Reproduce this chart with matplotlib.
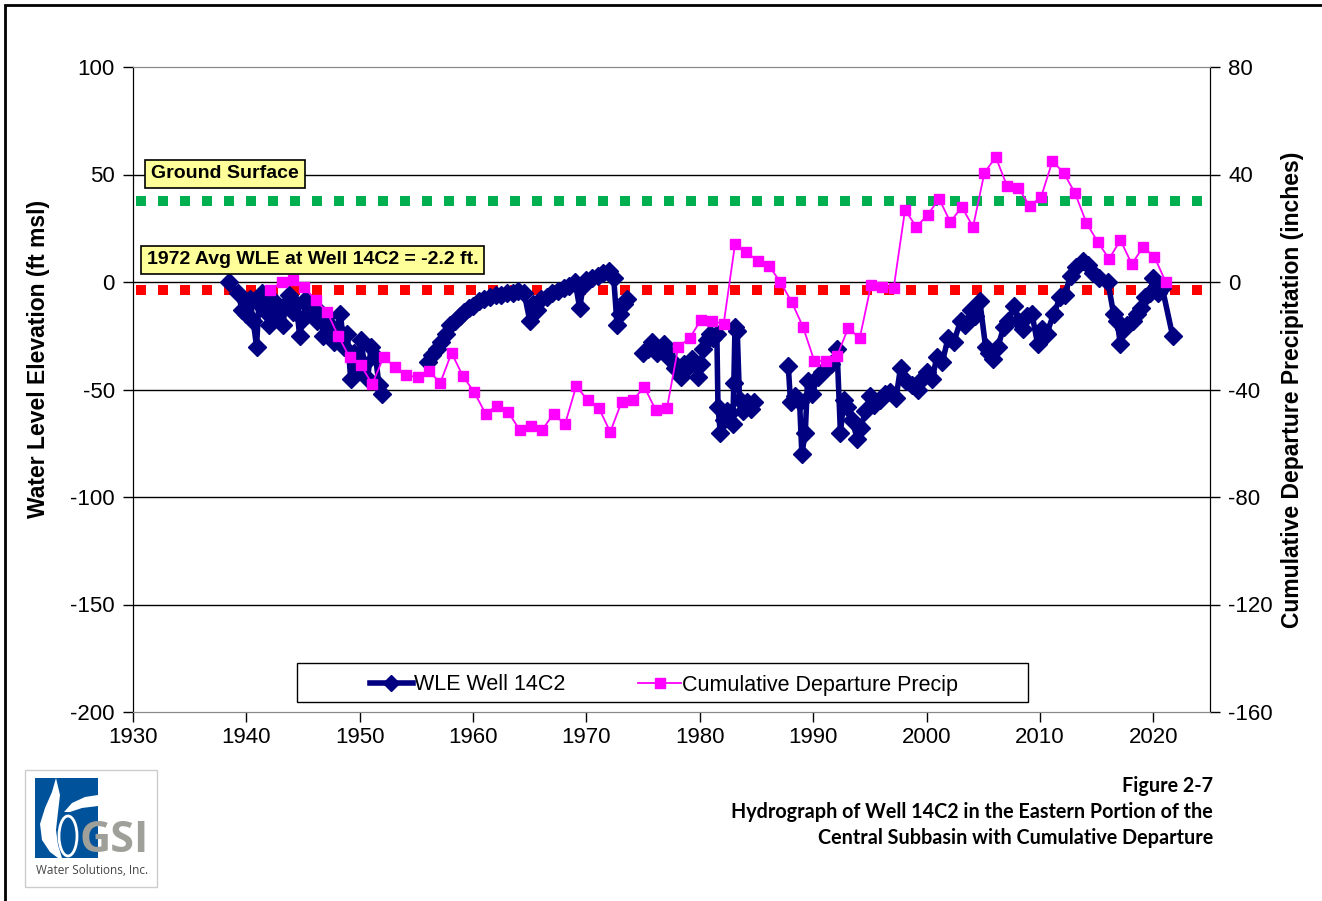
import numpy as np
import matplotlib.pyplot as plt
from matplotlib.patches import Rectangle, Ellipse, Polygon
from matplotlib.lines import Line2D

plt.rcParams['font.family'] = ['Liberation Sans', 'DejaVu Sans']
plt.rcParams['axes.unicode_minus'] = False

nan = np.nan

# water level elevation, well 14C2 (ft msl); nan = gap in record
wle_year = [1938.5, 1939.3, 1939.6, 1940.0, 1940.3, 1940.6, 1940.9, 1941.1, 1941.4, 1941.7,
            1942.0, 1942.3, 1942.6, 1942.9, 1943.2, 1943.5, 1943.8, 1944.1, 1944.4, 1944.7,
            1945.0, 1945.3, 1945.6, 1945.9, 1946.2, 1946.5, 1946.8, 1947.1, 1947.4, 1947.7,
            1948.0, 1948.3, 1948.6, 1948.9, 1949.2, 1949.5, 1949.8, 1950.1, 1950.4, 1950.7,
            1951.0, 1951.4, 1951.7, 1952.0, 1954.0,
            1956.0, 1956.4, 1956.8, 1957.2, 1957.6, 1958.0, 1958.4, 1958.8, 1959.2, 1959.6,
            1960.0, 1960.5, 1961.0, 1961.5, 1962.0, 1962.5, 1963.0, 1963.5, 1964.0, 1964.5,
            1965.0, 1965.3, 1965.6, 1966.0, 1966.5, 1967.0, 1967.5, 1968.0, 1968.5, 1969.0,
            1969.4, 1969.7, 1970.0, 1970.5, 1971.0, 1971.5, 1972.0, 1972.4, 1972.7, 1973.0,
            1973.3, 1973.6, 1974.3,
            1975.0, 1975.4, 1975.8, 1976.2, 1976.8, 1977.1, 1977.4, 1977.8, 1978.3, 1978.6,
            1978.9, 1979.3, 1979.8, 1980.1, 1980.3, 1980.6, 1980.9, 1981.2, 1981.5, 1981.6,
            1981.8, 1982.1, 1982.4, 1982.7, 1982.9, 1983.0, 1983.1, 1983.3, 1983.5, 1983.8,
            1984.2, 1984.5, 1984.8, 1986.0,
            1987.8, 1988.0, 1988.4, 1988.8, 1989.0, 1989.3, 1989.5, 1989.9, 1990.4, 1990.8,
            1991.2, 1991.6, 1992.1, 1992.4, 1992.7, 1993.0, 1993.4, 1993.9, 1994.2, 1994.6,
            1995.0, 1995.4, 1995.9, 1996.3, 1996.8, 1997.3, 1997.7, 1998.2, 1998.7, 1999.2,
            1999.6, 2000.0, 2000.5, 2000.9, 2001.4, 2001.9, 2002.4, 2003.0, 2003.4, 2003.9,
            2004.3, 2004.7, 2005.2, 2005.5, 2005.9, 2006.3, 2006.8, 2007.2, 2007.7, 2008.1,
            2008.5, 2008.9, 2009.3, 2009.8, 2010.2, 2010.6, 2011.2, 2011.8, 2012.2, 2012.7,
            2013.2, 2013.8, 2014.2, 2014.7, 2015.2, 2016.0, 2016.5, 2016.8, 2017.1, 2017.4,
            2017.7, 2018.2, 2018.6, 2018.9, 2019.3, 2019.7, 2020.0, 2020.4, 2020.8, 2021.7]
wle_ft = [0, -5, -13, -15, -8, -18, -30, -10, -5, -14,
          -20, -8, -15, -12, -20, -10, -6, -14, -10, -25,
          -17, -8, -12, -14, -18, -14, -25, -16, -20, -28,
          -22, -15, -30, -24, -45, -33, -42, -27, -38, -45,
          -30, -35, -48, -52, nan,
          -37, -34, -31, -28, -24, -20, -18, -16, -14, -12,
          -11, -9, -8, -7, -6, -6, -5, -5, -4, -5,
          -18, -10, -13, -8, -7, -5, -4, -3, -2, 0,
          -12, -2, 1, 2, 3, 4, 5, 2, -20, -15,
          -10, -8, nan,
          -33, -31, -28, -33, -29, -32, -36, -40, -44, -38,
          -40, -36, -44, -38, -31, -27, -24, -26, -24, -58,
          -70, -64, -60, -61, -66, -47, -21, -23, -55, -60,
          -56, -59, -56, nan,
          -39, -56, -53, -56, -80, -70, -46, -52, -44, -42,
          -40, -38, -31, -70, -55, -58, -64, -73, -68, -60,
          -53, -57, -55, -52, -51, -54, -40, -46, -48, -50,
          -45, -42, -45, -35, -37, -26, -28, -18, -20, -13,
          -16, -9, -30, -33, -36, -30, -21, -18, -11, -18,
          -22, -16, -15, -29, -22, -24, -15, -7, -6, 3,
          7, 10, 8, 4, 2, 0, -15, -18, -29, -22,
          -20, -18, -15, -12, -7, -5, 2, -5, -3, -25]

# cumulative departure from mean precipitation (inches), one value per year
precip_year = list(range(1942, 2022))
precip_in = [-3, 0, 0.7, -2, -6.7, -11, -20, -28, -31, -38,
             -28, -31.6, -34.6, -35.5, -33, -37.6, -26.4, -35, -41, -49,
             -46, -48.4, -55, -53.6, -55, -49, -53, -38.7, -44, -47,
             -55.8, -44.6, -44, -39, -47.6, -47, -24, -21, -14, -14.5,
             -15.6, 14, 11, 8, 6, 0, -7.4, -16.7, -29.4, -29.4,
             -27.5, -17, -21, -1.1, -1.8, -2.2, 26.8, 20.5, 25, 31,
             22.3, 28, 20.5, 40.6, 46.5, 35.7, 35, 28.3, 31.6, 45,
             40.6, 33, 22, 14.9, 8.6, 15.6, 6.7, 13, 9.3, 0]

ground_surface = 37.5
avg_wle_1972 = -3.8

W, H = 1322, 901
fig = plt.figure(figsize=(W / 100, H / 100), dpi=100)
ax = fig.add_axes([133/W, 1-712/H, (1210-133)/W, (712-67)/H])
ax2 = ax.twinx()

# reference lines
for yv, col in [(ground_surface, '#00B050'), (avg_wle_1972, '#FF0000')]:
    ax.plot([1930.3, 2025], [yv, yv], color=col, lw=7.2, dashes=(1, 1.2),
            dash_capstyle='butt', solid_capstyle='butt', zorder=2)

ax.plot(wle_year, wle_ft, color='#000080', lw=4, marker='D', ms=9.5,
        mec='#000080', zorder=3)
ax2.plot(np.array(precip_year) + 0.1, precip_in, color='#FF00FF', lw=1.3,
         marker='s', ms=7, zorder=3)

ax.set_xlim(1930, 2025)
ax.set_ylim(-200, 100)
ax2.set_ylim(-160, 80)
ax.set_xticks(range(1930, 2021, 10))
ax.set_yticks(range(-200, 101, 50))
ax2.set_yticks(range(-160, 81, 40))

for a in (ax, ax2):
    a.tick_params(direction='out', length=7, width=1, labelsize=16, color='black', pad=6)
    a.spines['top'].set_color('#888888')
    a.spines['bottom'].set_color('#888888')
ax.tick_params(axis='x', pad=4)

for yv in range(-150, 100, 50):
    ax.axhline(yv, color='black', lw=1, zorder=1)

ax.set_ylabel('Water Level Elevation (ft msl)', fontsize=16.5, fontweight='bold')
ax.yaxis.set_label_coords((50 - 133) / 1077, (712 - 359) / 645)
ax2.set_ylabel('Cumulative Departure Precipitation (inches)', fontsize=16.5,
               fontweight='bold', labelpad=6)

# annotation boxes
box = dict(boxstyle='square,pad=0.3', fc='#FFFF99', ec='black', lw=1.2)
ax2.text(1931.6, 40.2, 'Ground Surface', fontsize=14, fontweight='bold',
         va='center', ha='left', bbox=box, zorder=6)
ax2.text(1931.2, 8.2, '1972 Avg WLE at Well 14C2 = -2.2 ft.', fontsize=14,
         fontweight='bold', va='center', ha='left', bbox=box, zorder=6)

# legend with its own box
ax2.add_patch(Rectangle(((297-133)/1077, (712-702)/645), (1028-297)/1077, 39/645,
                        transform=ax2.transAxes, fc='white', ec='black', lw=1, zorder=6))
handles = [Line2D([], [], color='#000080', lw=4, marker='D', ms=8),
           Line2D([], [], color='#FF00FF', lw=1.3, marker='s', ms=7)]
leg = ax2.legend(handles, ['WLE Well 14C2', 'Cumulative Departure Precip'],
                 loc='center', bbox_to_anchor=((664-133)/1077, (712-685)/645), ncol=2,
                 fontsize=15.5, frameon=False, handlelength=2.0, handletextpad=0.05,
                 columnspacing=3.4, borderaxespad=0)
leg.set_zorder(7)

# outer frame
fig.patches.append(Rectangle((5/W, -0.1), 1.2, 1.1 - 5/H, transform=fig.transFigure,
                             fill=False, ec='black', lw=2))

# footer caption
cap = dict(fontsize=14.2, fontweight='bold', ha='right', va='center', family=['Lato', 'DejaVu Sans'])
fig.text(1213/W, 1-786/H, 'Figure 2-7', **cap)
fig.text(1213/W, 1-812/H, 'Hydrograph of Well 14C2 in the Eastern Portion of the', **cap)
fig.text(1213/W, 1-838/H, 'Central Subbasin with Cumulative Departure', **cap)

# logo
def px(x, y):
    return (x/W, 1-y/H)

blue = '#00529B'
fig.patches.append(Rectangle(px(25, 887), 132/W, 117/H, transform=fig.transFigure,
                             fc='white', ec='#cccccc', lw=1))
fig.patches.append(Rectangle(px(35, 858), 63/W, 80/H, transform=fig.transFigure,
                             fc=blue, ec='none'))
drop1 = [px(56, 778), px(52, 792), px(45, 808), px(40, 824), px(42, 840), px(50, 852),
         px(58, 858), px(62, 858), px(58, 845), px(56, 830), px(58, 812), px(60, 795)]
fig.patches.append(Polygon(drop1, closed=True, transform=fig.transFigure, fc='white', ec='none'))
notch = [px(98, 795), px(85, 797), px(72, 803), px(64, 812), px(70, 812), px(82, 808), px(98, 806)]
fig.patches.append(Polygon(notch, closed=True, transform=fig.transFigure, fc='white', ec='none'))
fig.patches.append(Ellipse(px(68, 836), 18/W, 40/H, transform=fig.transFigure,
                           fc=blue, ec='white', lw=2))
fig.text(*px(114, 841), 'GSI', fontsize=31, fontweight='bold', color='#A0A09A',
         ha='center', va='center', family=['Open Sans', 'DejaVu Sans'])
fig.text(*px(92, 871), 'Water Solutions, Inc.', fontsize=8.5, color='#444444',
         ha='center', va='center', family=['Open Sans', 'DejaVu Sans'])

fig.savefig('out.png', dpi=100)
